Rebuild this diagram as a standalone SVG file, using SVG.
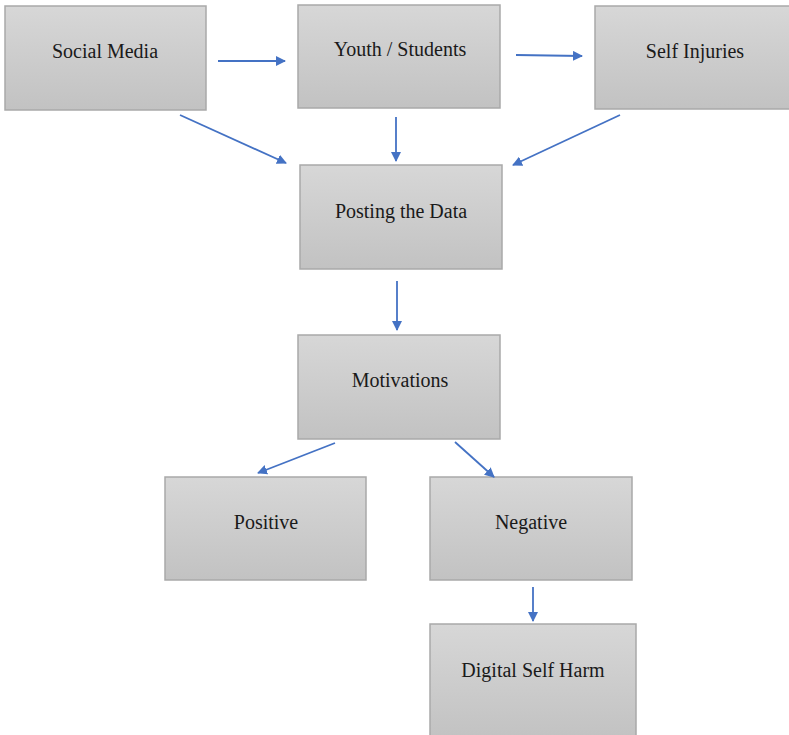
<svg xmlns="http://www.w3.org/2000/svg" width="789" height="735" viewBox="0 0 789 735">
<style>
.box{fill:url(#g);stroke:#a9a9a9;stroke-width:1.5}
.t{font-family:"Liberation Serif","Times New Roman",serif;font-size:20px;fill:#1a1a1a;text-anchor:middle}
.c{stroke:#4472c4;stroke-width:1.8;fill:none;marker-end:url(#a)}
</style>
<defs>
<linearGradient id="g" x1="0" y1="0" x2="0" y2="1">
<stop offset="0" stop-color="#d7d7d7"/>
<stop offset="1" stop-color="#c2c2c2"/>
</linearGradient>
<marker id="a" viewBox="0 0 10 10" refX="9" refY="5" markerWidth="10" markerHeight="10" orient="auto" markerUnits="userSpaceOnUse">
<path d="M0,0 L10,5 L0,10 z" fill="#4472c4"/>
</marker>
</defs>
<rect width="789" height="735" fill="#fff"/>
<g id="social-media"><rect class="box" x="5" y="6" width="201" height="104"/><text class="t" x="105" y="58">Social Media</text></g>
<g id="youth-students"><rect class="box" x="298" y="5" width="202" height="103"/><text class="t" x="400" y="56">Youth / Students</text></g>
<g id="self-injuries"><rect class="box" x="595" y="6" width="196" height="103"/><text class="t" x="695" y="58">Self Injuries</text></g>
<g id="posting"><rect class="box" x="300" y="165" width="202" height="104"/><text class="t" x="401" y="218">Posting the Data</text></g>
<g id="motivations"><rect class="box" x="298" y="335" width="202" height="104"/><text class="t" x="400" y="387">Motivations</text></g>
<g id="positive"><rect class="box" x="165" y="477" width="201" height="103"/><text class="t" x="266" y="529">Positive</text></g>
<g id="negative"><rect class="box" x="430" y="477" width="202" height="103"/><text class="t" x="531" y="529">Negative</text></g>
<g id="digital-self-harm"><rect class="box" x="430" y="624" width="206" height="115"/><text class="t" x="533" y="677">Digital Self Harm</text></g>
<g id="connectors">
<line class="c" x1="218" y1="61" x2="285" y2="61"/>
<line class="c" x1="516" y1="55" x2="582" y2="56"/>
<line class="c" x1="180" y1="115" x2="286" y2="163"/>
<line class="c" x1="396" y1="117" x2="396" y2="161"/>
<line class="c" x1="620" y1="115" x2="513" y2="165"/>
<line class="c" x1="397" y1="281" x2="397" y2="330"/>
<line class="c" x1="335" y1="443" x2="258" y2="473"/>
<line class="c" x1="455" y1="442" x2="494" y2="477"/>
<line class="c" x1="533" y1="587" x2="533" y2="621"/>
</g>
</svg>
